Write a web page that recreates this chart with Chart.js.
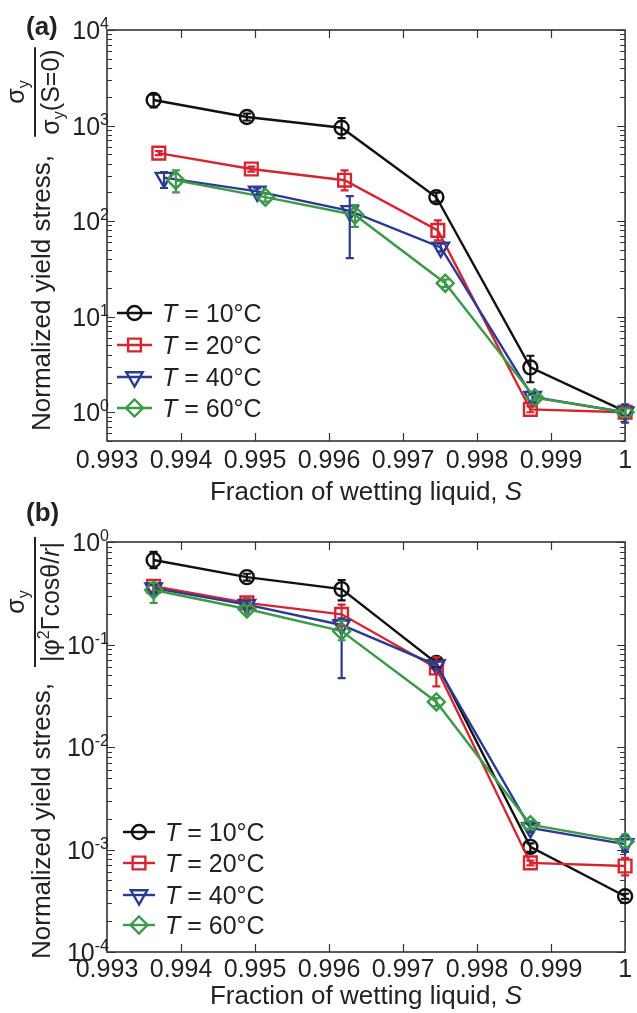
<!DOCTYPE html>
<html>
<head>
  <title>Normalized yield stress vs fraction of wetting liquid</title>
  <meta charset="utf-8" />
  <style>
    html, body { margin: 0; padding: 0; background: #fff; }
    canvas { position: absolute; left: 0; }
    #chartA { top: 0; }
    #chartB { top: 500px; }
  </style>
</head>
<body>
  <canvas id="chartA" width="637" height="510"></canvas>
  <canvas id="chartB" width="637" height="513"></canvas>

  <script src="https://cdn.jsdelivr.net/npm/chart.js"></script>
  <script>
    // temperatures (legend) and x tick values
    const temps = ['10', '20', '40', '60'];
    const xTicks = [0.993, 0.994, 0.995, 0.996, 0.997, 0.998, 0.999, 1];

    // panel (a): sigma_y / sigma_y(S=0)
    const sA10 = [0.99363, 0.99489, 0.99617, 0.99745, 0.99872, 1.0];
    const sA20 = [0.99370, 0.99495, 0.99621, 0.99747, 0.99872, 1.0];
    const sA40 = [0.99377, 0.99503, 0.99628, 0.99751, 0.99875, 1.0];
    const sA60 = [0.99393, 0.99514, 0.99635, 0.99757, 0.99878, 1.0];
    const yA10 = [1850, 1230, 950, 178, 2.95, 1.02];
    const loA10 = [1550, 1130, 740, 160, 2.06, 0.92];
    const hiA10 = [2100, 1330, 1200, 198, 3.9, 1.12];
    const yA20 = [515, 351, 268, 80, 1.07, 1.0];
    const loA20 = [490, 330, 210, 63, 1.0, 0.85];
    const hiA20 = [540, 372, 340, 102, 1.15, 1.15];
    const yA40 = [285, 205, 128, 53, 1.45, 1.0];
    const loA40 = [222, 190, 41, 48, 1.3, 0.78];
    const hiA40 = [325, 220, 183, 58, 1.55, 1.2];
    const yA60 = [268, 178, 116, 22.4, 1.42, 1.0];
    const loA60 = [200, 160, 87, 20.5, 1.33, 0.9];
    const hiA60 = [340, 195, 147, 24.5, 1.5, 1.1];

    // panel (b): sigma_y / |phi^2 Gamma cos(theta) / r|
    const sB = [0.99363, 0.99489, 0.99617, 0.99745, 0.99872, 1.0];
    const yB10 = [0.667, 0.454, 0.347, 0.066, 1.06e-3, 3.5e-4];
    const loB10 = [0.557, 0.42, 0.27, 0.06, 0.95e-3, 3.3e-4];
    const hiB10 = [0.80, 0.49, 0.426, 0.072, 1.15e-3, 3.7e-4];
    const yB20 = [0.37, 0.255, 0.197, 0.059, 7.4e-4, 6.9e-4];
    const loB20 = [0.33, 0.23, 0.15, 0.039, 7.0e-4, 5.6e-4];
    const hiB20 = [0.40, 0.28, 0.245, 0.075, 7.8e-4, 8.3e-4];
    const yB40 = [0.355, 0.245, 0.155, 0.063, 1.62e-3, 1.13e-3];
    const loB40 = [0.32, 0.225, 0.047, 0.058, 1.48e-3, 0.95e-3];
    const hiB40 = [0.38, 0.265, 0.18, 0.068, 1.75e-3, 1.35e-3];
    const yB60 = [0.34, 0.222, 0.135, 0.0275, 1.75e-3, 1.2e-3];
    const loB60 = [0.255, 0.2, 0.11, 0.025, 1.6e-3, 1.05e-3];
    const hiB60 = [0.40, 0.24, 0.17, 0.030, 1.9e-3, 1.4e-3];

    const FONT = '"Liberation Sans", Arial, Helvetica, sans-serif';
    const LW = 2.4;
    const styles = [
      { color: '#111111', shape: 'circle', rot: 0, r: 7, order: 4 },
      { color: '#d6252f', shape: 'rect', rot: 0, r: 9, order: 3 },
      { color: '#2b3a92', shape: 'triangle', rot: 180, r: 9.5, order: 2 },
      { color: '#3c9a48', shape: 'rectRot', rot: 0, r: 8.5, order: 1 }
    ];

    const f = (size, extra) => (extra ? extra + ' ' : '') + size + 'px ' + FONT;

    // draw a run of text pieces with their own fonts and baseline offsets
    function measureParts(ctx, parts) {
      let w = 0;
      parts.forEach(p => { ctx.font = p.font; w += ctx.measureText(p.t).width; });
      return w;
    }
    function drawParts(ctx, parts, x, y) {
      let cx = x;
      parts.forEach(p => {
        ctx.font = p.font;
        ctx.fillText(p.t, cx, y + (p.dy || 0));
        cx += ctx.measureText(p.t).width;
      });
      return cx - x;
    }

    function drawMarker(ctx, shape, x, y, r) {
      ctx.beginPath();
      if (shape === 'circle') {
        ctx.arc(x, y, r, 0, Math.PI * 2);
      } else if (shape === 'rect') {
        const h = r * Math.SQRT1_2;
        ctx.rect(x - h, y - h, 2 * h, 2 * h);
      } else if (shape === 'triangle') {
        const s = Math.sin(Math.PI / 3) * r;
        ctx.moveTo(x, y + r);
        ctx.lineTo(x - s, y - r / 2);
        ctx.lineTo(x + s, y - r / 2);
        ctx.closePath();
      } else {
        ctx.moveTo(x - r, y);
        ctx.lineTo(x, y - r);
        ctx.lineTo(x + r, y);
        ctx.lineTo(x, y + r);
        ctx.closePath();
      }
      ctx.stroke();
    }

    function makePanel(canvasId, cfg, series) {
      const panelPlugin = {
        id: 'panel_' + canvasId,
        beforeDatasetsDraw(chart) {
          const ctx = chart.ctx, a = chart.chartArea;
          const xs = chart.scales.x, ys = chart.scales.y;
          ctx.save();
          ctx.strokeStyle = '#333';
          ctx.lineWidth = 1.2;
          ctx.beginPath();
          // x ticks, inward, top and bottom
          xTicks.slice(1, -1).forEach(v => {
            const px = Math.round(xs.getPixelForValue(v)) + 0.5;
            ctx.moveTo(px, a.bottom); ctx.lineTo(px, a.bottom - 8);
            ctx.moveTo(px, a.top); ctx.lineTo(px, a.top + 8);
          });
          // log y ticks, inward, left and right
          const d0 = Math.floor(Math.log10(cfg.yMin)), d1 = Math.ceil(Math.log10(cfg.yMax));
          for (let d = d0; d <= d1; d++) {
            for (let k = 1; k <= 9; k++) {
              const v = k * Math.pow(10, d);
              if (v < cfg.yMin * 0.999 || v > cfg.yMax * 1.001) continue;
              const py = Math.round(ys.getPixelForValue(v)) + 0.5;
              const len = k === 1 ? 8 : 5;
              ctx.moveTo(a.left, py); ctx.lineTo(a.left + len, py);
              ctx.moveTo(a.right, py); ctx.lineTo(a.right - len, py);
            }
          }
          ctx.stroke();
          ctx.lineWidth = 1.6;
          ctx.strokeRect(a.left, a.top, a.right - a.left, a.bottom - a.top);
          ctx.restore();
        },
        afterDatasetsDraw(chart) {
          const ctx = chart.ctx;
          const xs = chart.scales.x, ys = chart.scales.y;
          ctx.save();
          ctx.lineWidth = 2.2;
          series.forEach((s, i) => {
            ctx.strokeStyle = styles[i].color;
            ctx.beginPath();
            s.x.forEach((xv, j) => {
              const px = xs.getPixelForValue(xv);
              const p1 = ys.getPixelForValue(s.lo[j]);
              const p2 = ys.getPixelForValue(s.hi[j]);
              ctx.moveTo(px, p1); ctx.lineTo(px, p2);
              ctx.moveTo(px - 4, p1); ctx.lineTo(px + 4, p1);
              ctx.moveTo(px - 4, p2); ctx.lineTo(px + 4, p2);
            });
            ctx.stroke();
          });
          ctx.restore();
        },
        afterDraw(chart) {
          const ctx = chart.ctx, a = chart.chartArea;
          const xs = chart.scales.x, ys = chart.scales.y;
          ctx.save();
          ctx.fillStyle = '#222';
          ctx.textBaseline = 'alphabetic';

          // x tick labels
          ctx.font = f(25);
          ctx.textAlign = 'center';
          xTicks.forEach(v => {
            ctx.fillText(String(Math.round(v * 1000) / 1000), xs.getPixelForValue(v), a.bottom + cfg.tickGap);
          });

          // y tick labels 10^n
          ctx.textAlign = 'left';
          cfg.yExps.forEach(e => {
            const py = ys.getPixelForValue(Math.pow(10, e));
            const parts = [{ t: '10', font: f(25) }, { t: String(e), font: f(16), dy: -10 }];
            const w = measureParts(ctx, parts);
            drawParts(ctx, parts, a.left + 2 - w, py + 9);
          });

          // x axis title
          const xt = [{ t: 'Fraction of wetting liquid, ', font: f(26) }, { t: 'S', font: f(26, 'italic') }];
          const xw = measureParts(ctx, xt);
          drawParts(ctx, xt, (a.left + a.right) / 2 - xw / 2, cfg.xTitleY);

          // panel label
          ctx.font = f(26, 'bold');
          ctx.fillStyle = '#222';
          ctx.fillText(cfg.tag, 26, cfg.tagY);

          // legend
          styles.forEach((st, i) => {
            const ry = cfg.legY[i];
            ctx.strokeStyle = st.color;
            ctx.lineWidth = LW;
            ctx.beginPath();
            ctx.moveTo(cfg.legX0, ry); ctx.lineTo(cfg.legX1, ry);
            ctx.stroke();
            drawMarker(ctx, st.shape, (cfg.legX0 + cfg.legX1) / 2, ry, st.r);
            ctx.fillStyle = '#222';
            drawParts(ctx, [
              { t: 'T', font: f(25, 'italic') },
              { t: ' = ' + temps[i] + '°C', font: f(25) }
            ], cfg.legX1 + 10, ry + 9);
          });

          // rotated y axis title with fraction
          ctx.rotate(-Math.PI / 2);
          ctx.fillStyle = '#222';
          const main = [{ t: 'Normalized yield stress,', font: f(26) }];
          const mw = measureParts(ctx, main);
          drawParts(ctx, main, -cfg.mainEndY - mw, 50);
          const nw = measureParts(ctx, cfg.num);
          const dw = measureParts(ctx, cfg.den);
          const len = Math.max(nw, dw) + cfg.fracPad;
          const c = -cfg.fracCY;
          ctx.strokeStyle = '#222';
          ctx.lineWidth = 2;
          ctx.beginPath();
          ctx.moveTo(c - len / 2, 35); ctx.lineTo(c + len / 2, 35);
          ctx.stroke();
          drawParts(ctx, cfg.num, c - nw / 2, 24);
          drawParts(ctx, cfg.den, c - dw / 2, 59);
          ctx.restore();
        }
      };

      return new Chart(document.getElementById(canvasId), {
        type: 'line',
        data: {
          datasets: series.map((s, i) => ({
            label: 'T = ' + temps[i] + '°C',
            data: s.x.map((xv, j) => ({ x: xv, y: s.y[j] })),
            borderColor: styles[i].color,
            backgroundColor: styles[i].color,
            borderWidth: LW,
            tension: 0,
            fill: false,
            clip: false,
            order: styles[i].order,
            pointStyle: styles[i].shape,
            pointRotation: styles[i].rot,
            pointRadius: styles[i].r,
            pointBorderWidth: LW,
            pointBorderColor: styles[i].color,
            pointBackgroundColor: 'rgba(0,0,0,0)'
          }))
        },
        options: {
          responsive: false,
          animation: false,
          devicePixelRatio: 1,
          layout: { padding: cfg.padding },
          scales: {
            x: { type: 'linear', min: 0.993, max: 1.0, display: false },
            y: { type: 'logarithmic', min: cfg.yMin, max: cfg.yMax, display: false }
          },
          plugins: { legend: { display: false }, tooltip: { enabled: false } }
        },
        plugins: [panelPlugin]
      });
    }

    makePanel('chartA', {
      tag: '(a)', tagY: 35,
      padding: { left: 107, right: 9, top: 30, bottom: 69 },
      yMin: 0.5, yMax: 1e4, yExps: [0, 1, 2, 3, 4],
      tickGap: 27, xTitleY: 500,
      legX0: 117, legX1: 152, legY: [313, 345, 377, 408],
      mainEndY: 155, fracCY: 92, fracPad: 4,
      num: [{ t: 'σ', font: f(25) }, { t: 'y', font: f(16), dy: 5 }],
      den: [{ t: 'σ', font: f(25) }, { t: 'y', font: f(16), dy: 5 }, { t: '(S=0)', font: f(25) }]
    }, [
      { x: sA10, y: yA10, lo: loA10, hi: hiA10 },
      { x: sA20, y: yA20, lo: loA20, hi: hiA20 },
      { x: sA40, y: yA40, lo: loA40, hi: hiA40 },
      { x: sA60, y: yA60, lo: loA60, hi: hiA60 }
    ]);

    makePanel('chartB', {
      tag: '(b)', tagY: 21,
      padding: { left: 107, right: 9, top: 42, bottom: 61 },
      yMin: 1e-4, yMax: 1, yExps: [-4, -3, -2, -1, 0],
      tickGap: 25, xTitleY: 504,
      legX0: 123, legX1: 155, legY: [332, 363, 395, 425],
      mainEndY: 183, fracCY: 102, fracPad: 10,
      num: [{ t: 'σ', font: f(25) }, { t: 'y', font: f(16), dy: 5 }],
      den: [
        { t: '|φ', font: f(25) }, { t: '2', font: f(16), dy: -10 },
        { t: 'Γcosθ/', font: f(25) }, { t: 'r', font: f(25, 'italic') }, { t: '|', font: f(25) }
      ]
    }, [
      { x: sB, y: yB10, lo: loB10, hi: hiB10 },
      { x: sB, y: yB20, lo: loB20, hi: hiB20 },
      { x: sB, y: yB40, lo: loB40, hi: hiB40 },
      { x: sB, y: yB60, lo: loB60, hi: hiB60 }
    ]);
  </script>
</body>
</html>
